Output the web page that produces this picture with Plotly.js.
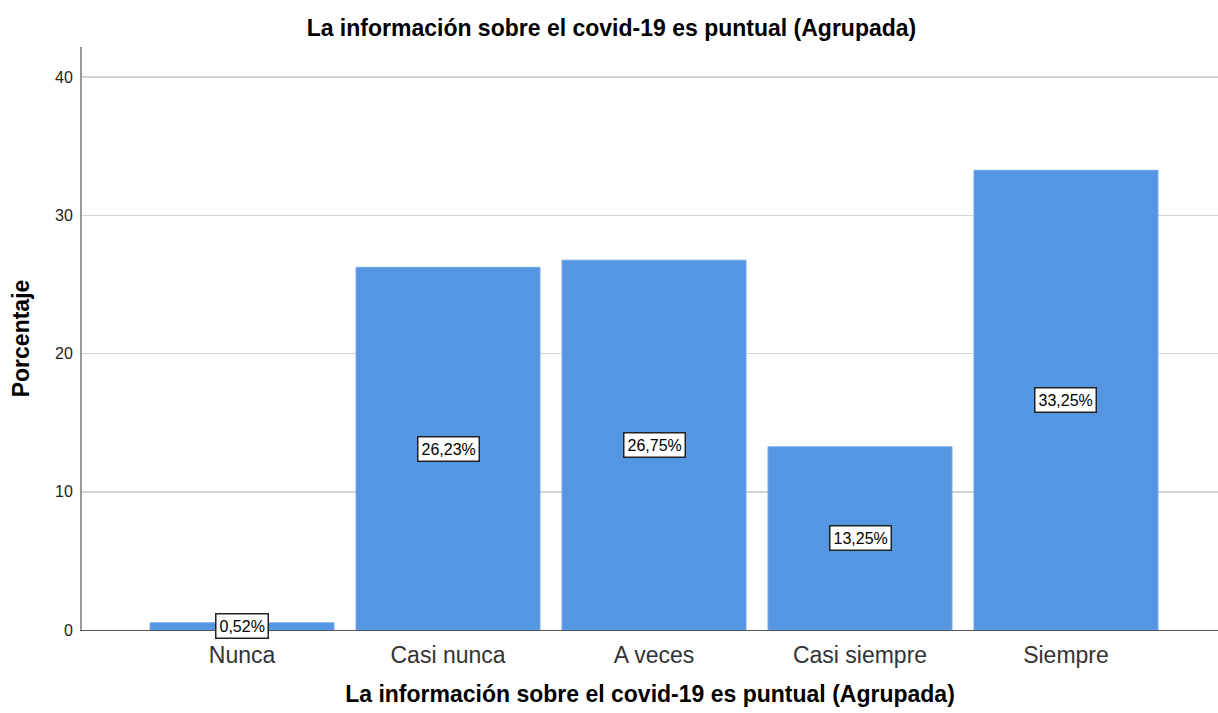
<!DOCTYPE html>
<html>
<head>
<meta charset="utf-8">
<script src="https://cdn.plot.ly/plotly-3.0.1.min.js"></script>
<style>html,body{margin:0;padding:0;background:#fff;}#chart{width:1218px;height:713px;}</style>
</head>
<body>
<div id="chart"></div>
<script>
const categories = ["Nunca", "Casi nunca", "A veces", "Casi siempre", "Siempre"];
const percentages = [0.52, 26.23, 26.75, 13.25, 33.25];
const labels = ["0,52%", "26,23%", "26,75%", "13,25%", "33,25%"];
const yTicks = [0, 10, 20, 30, 40];

const FONT = "Liberation Sans, Arial, sans-serif";

const trace = {
  type: "bar",
  x: categories,
  y: percentages,
  width: 0.893,
  marker: {color: "#5596e3", line: {color: "#6fa6e8", width: 1}},
  hoverinfo: "none"
};

const annotations = categories.map((c, i) => ({
  x: c, y: percentages[i] / 2, xref: "x", yref: "y",
  text: labels[i], showarrow: false,
  font: {family: FONT, size: 16, color: "#000"},
  bgcolor: "#ffffff", bordercolor: "#222222", borderwidth: 1.5, borderpad: 3
}));

const layout = {
  width: 1218, height: 713,
  margin: {l: 82, r: 0, t: 47, b: 83},
  paper_bgcolor: "#fff", plot_bgcolor: "#fff",
  showlegend: false,
  title: {text: "La información sobre el covid-19 es puntual (Agrupada)",
          font: {family: FONT, size: 23, color: "#000", weight: "bold"},
          x: 0.502, xref: "container", y: 0.961, yanchor: "middle"},
  xaxis: {
    type: "category", range: [-0.777, 4.738],
    showgrid: false, showline: true, linecolor: "#555", linewidth: 1,
    ticks: "", ticklabelstandoff: 4,
    tickfont: {family: FONT, size: 23, color: "#333"},
    title: {text: "La información sobre el covid-19 es puntual (Agrupada)", standoff: 19,
            font: {family: FONT, size: 23, color: "#000", weight: "bold"}}
  },
  yaxis: {
    range: [0, 42.17], tickvals: yTicks, ticktext: yTicks.map(String),
    showgrid: true, gridcolor: "#d4d4d4", gridwidth: 1.5,
    showline: true, linecolor: "#999", linewidth: 2,
    zeroline: false, ticks: "", ticklabelstandoff: 4,
    tickfont: {family: FONT, size: 16, color: "#222"},
    title: {text: "Porcentaje", standoff: 19,
            font: {family: FONT, size: 23, color: "#000", weight: "bold"}}
  },
  annotations: annotations
};

Plotly.newPlot("chart", [trace], layout, {staticPlot: true});
</script>
</body>
</html>
